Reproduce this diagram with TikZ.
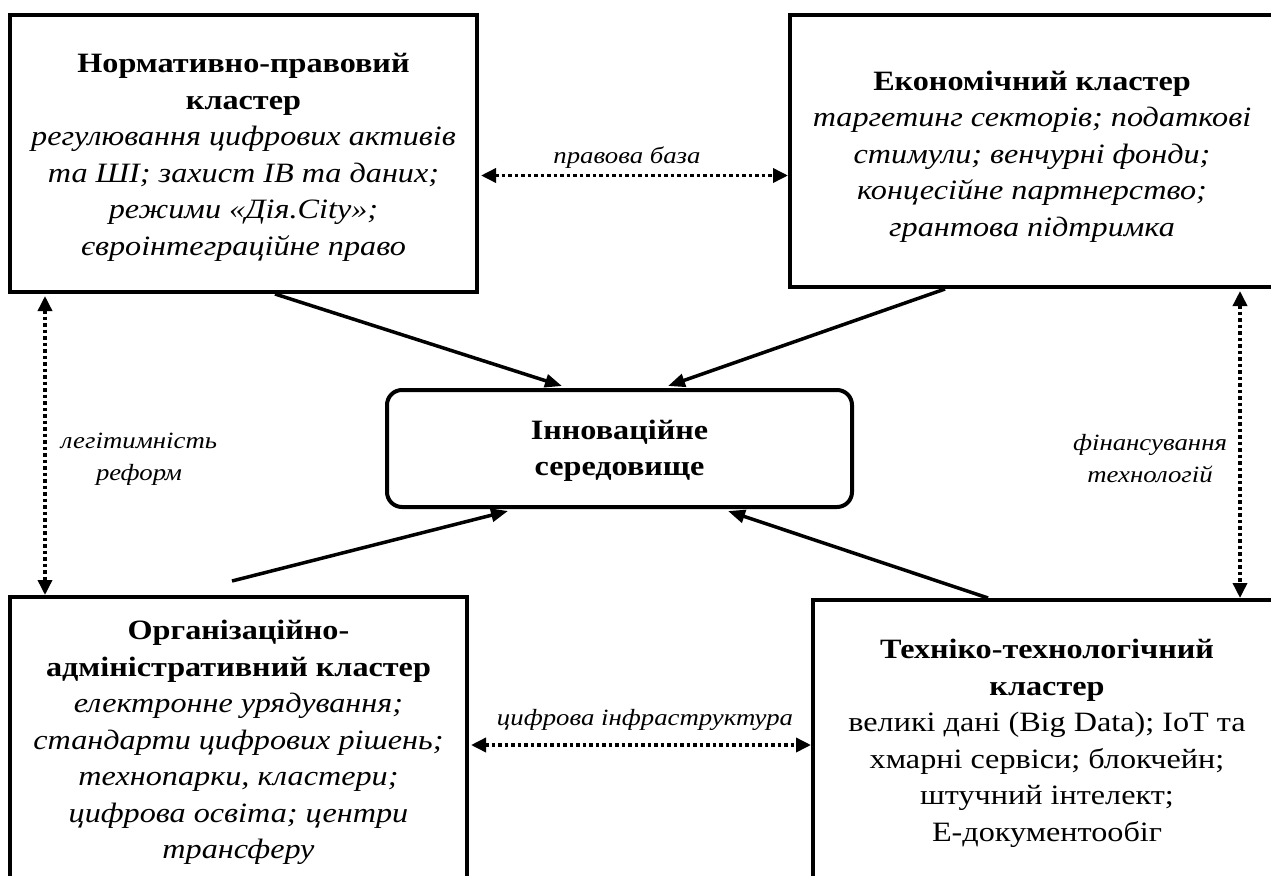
\documentclass[tikz,border=0pt]{standalone}
\usepackage{fontspec}
\setmainfont{Liberation Serif}[FakeStretch=1.15]
\usetikzlibrary{arrows.meta,calc}
\begin{document}
\begin{tikzpicture}[x=1pt,y=-1pt,
  frame/.style={draw,line width=4pt,rectangle,inner sep=0pt},
  hub/.style={frame,rounded corners=15pt},
  txt/.style={align=center,inner sep=0pt,font=\fontsize{28}{36.5}\selectfont},
  lbl/.style={align=center,inner sep=0pt,font=\itshape\fontsize{23.3}{32}\selectfont},
  flow/.style={line width=3.5pt,-{Triangle[length=17pt,width=13pt]}},
  link/.style={line width=3.5pt,dash pattern=on 3.5pt off 3pt,
    {Triangle[length=15pt,width=14pt]}-{Triangle[length=15pt,width=14pt]}}
]
\path[use as bounding box,fill=white] (0,0) rectangle (1271,875);
\clip (0,0) rectangle (1271,875);

\node[frame,minimum width=467pt,minimum height=277pt] (tl) at (243.5,153.5) {};
\node[txt] (tlt) at (243.5,157.5)
  {{\bfseries Нормативно-правовий}\\{\bfseries кластер}\\
   {\itshape регулювання цифрових активів}\\{\itshape та ШІ; захист ІВ та даних;}\\
   {\itshape режими «Дія.City»;}\\{\itshape євроінтеграційне право}};
\node[frame,minimum width=484pt,minimum height=272pt] (tr) at (1032,151) {};
\node[txt] (trt) at (1032,156.5)
  {{\bfseries Економічний кластер}\\
   {\itshape таргетинг секторів; податкові}\\{\itshape стимули; венчурні фонди;}\\
   {\itshape концесійне партнерство;}\\{\itshape грантова підтримка}};
\node[frame,minimum width=457pt,minimum height=286pt] (bl) at (238.5,740) {};
\node[txt] (blt) at (238.5,742.5)
  {{\bfseries Організаційно-}\\{\bfseries адміністративний кластер}\\
   {\itshape електронне урядування;}\\{\itshape стандарти цифрових рішень;}\\
   {\itshape технопарки, кластери;}\\{\itshape цифрова освіта; центри}\\
   {\itshape трансферу}};
\node[frame,minimum width=468pt,minimum height=282pt] (br) at (1047,741) {};
\node[txt] (brt) at (1047,743.5)
  {{\bfseries Техніко-технологічний}\\{\bfseries кластер}\\
   великі дані (Big Data); IoT та\\хмарні сервіси; блокчейн;\\
   штучний інтелект;\\Е-документообіг};
\node[hub,minimum width=465pt,minimum height=117pt] (c) at (619.5,448.5) {};
\node[txt] (ct) at (619.5,451)
  {{\bfseries Інноваційне}\\{\bfseries середовище}};

\draw[flow] ($(tl.south)+(31.5,0)$) -- ($(c.north)+(-57.5,-2)$);
\draw[flow] ($(tr.south)+(-87,0)$) -- ($(c.north)+(48.5,-2)$);
\coordinate (blstart) at ($(bl.north)+(-6.5,-14)$);
\draw[flow] (blstart) -- ($(c.south)+(-111.5,2)$);
\draw[flow] ($(br.north)+(-59,0)$) -- ($(c.south)+(108.5,2)$);

\coordinate (ltop) at ($(tl.east)+(2,22)$);
\draw[link] (ltop) -- (ltop -| tr.west);
\node[lbl] (lpb) at (627,158) {правова база};

\coordinate (lv) at ($(tl.south west)+(37,2)$);
\draw[link] (lv) -- (lv |- bl.north);
\node[lbl] (llr) at (139,459) {легітимність\\реформ};

\coordinate (rv) at ($(tr.south west)+(452,2)$);
\draw[link] (rv) -- (rv |- br.north);
\node[lbl] (lft) at (1150,459) {фінансування\\технологій};

\coordinate (bh) at ($(bl.east)+(2,5)$);
\draw[link] (bh) -- (bh -| br.west);
\node[lbl] (lci) at (645,720) {цифрова інфраструктура};
\end{tikzpicture}
\end{document}
